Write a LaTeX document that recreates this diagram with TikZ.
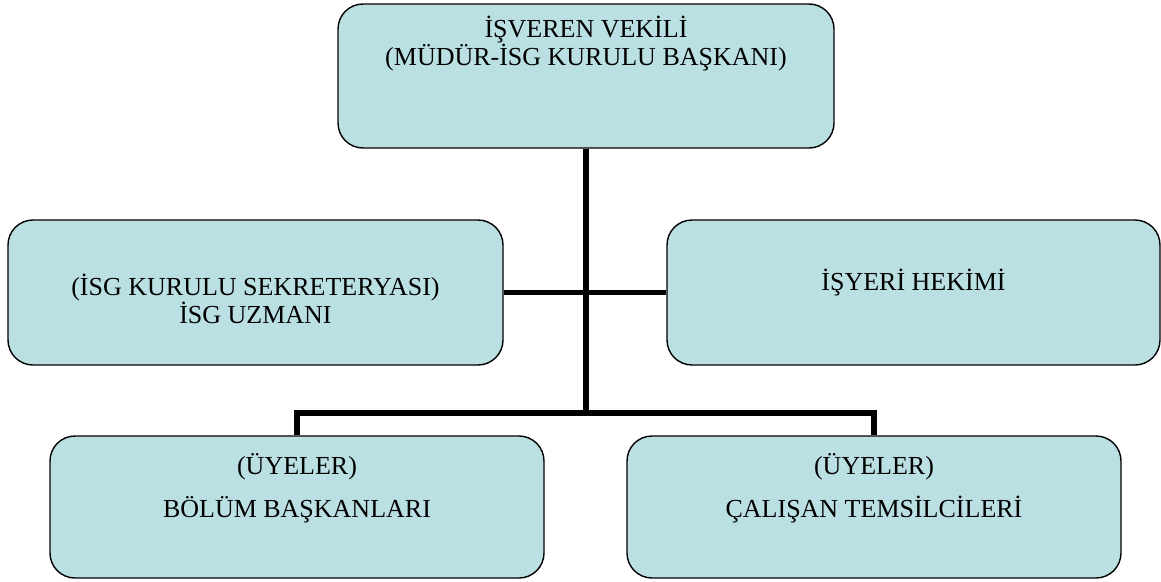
\documentclass[tikz,border=0pt]{standalone}
\usepackage{fontspec}
\setmainfont{Liberation Serif}
\definecolor{boxblue}{RGB}{187,224,227}
\tikzset{
orgbox/.style={rectangle,rounded corners=25pt,draw=black,line width=1.4pt,fill=boxblue},
orgtext/.style={align=center,font=\fontsize{26}{28}\selectfont,inner sep=0pt},
conn/.style={line width=5.5pt},
}
\begin{document}
\begin{tikzpicture}[x=1pt,y=-1pt]
\useasboundingbox (0,0) rectangle (1161,581);
% boxes
\node [orgbox,minimum width=496pt,minimum height=144pt] (isveren) at (586,76) {};
\node [orgbox,minimum width=495pt,minimum height=145pt] (isg) at (255.5,292.5) {};
\node [orgbox,minimum width=493pt,minimum height=145pt] (hekim) at (913.5,292.5) {};
\node [orgbox,minimum width=494pt,minimum height=142pt] (bolum) at (297,507) {};
\node [orgbox,minimum width=494pt,minimum height=142pt] (calisan) at (874,507) {};
% texts
\node [orgtext] (isveren-t) at (586,44) {İŞVEREN VEKİLİ\\(MÜDÜR-İSG KURULU BAŞKANI)};
\node [orgtext] (isg-t) at (255.5,299) {(İSG KURULU SEKRETERYASI)\\İSG UZMANI};
\node [orgtext] (hekim-t) at (913.5,283) {İŞYERİ HEKİMİ};
\node [orgtext] (bolum-t) at (297,488) {(ÜYELER)\\[15pt]BÖLÜM BAŞKANLARI};
\node [orgtext] (calisan-t) at (874,488) {(ÜYELER)\\[15pt]ÇALIŞAN TEMSİLCİLERİ};
% connectors
\coordinate (jn) at (586,413);
\draw [conn] (isveren.south) -- (jn);
\draw [conn] (isg.east) -- (hekim.west);
\draw [conn] (bolum.north) |- (jn) -| (calisan.north);
\end{tikzpicture}
\end{document}
